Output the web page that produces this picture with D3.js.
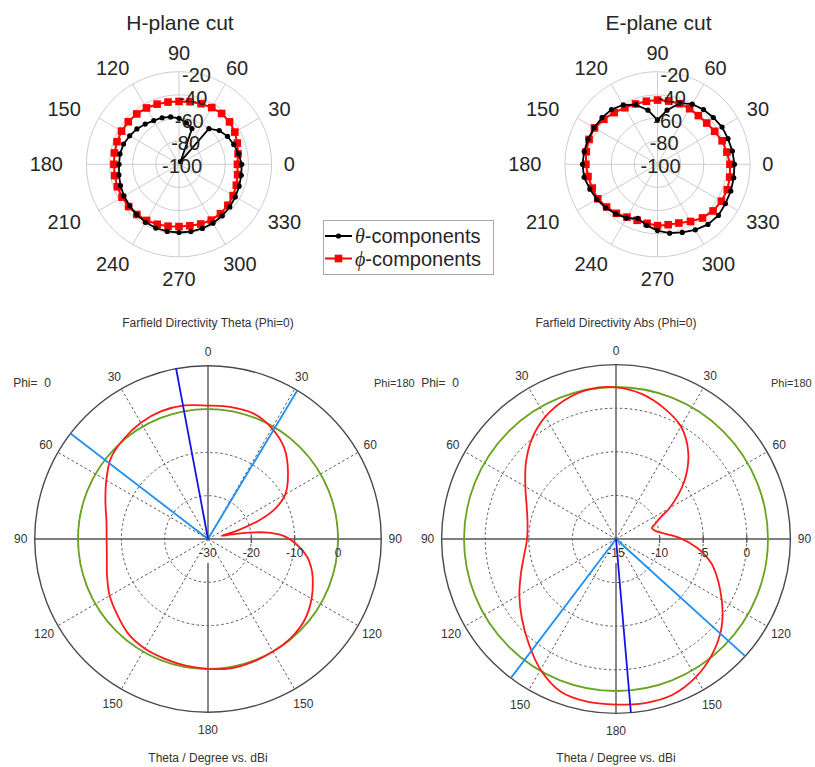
<!DOCTYPE html>
<html><head><meta charset="utf-8">
<script src="https://cdn.jsdelivr.net/npm/d3@7"></script>
<style>body{margin:0;background:#fff}svg{display:block}</style>
</head><body>
<svg id="c" width="815" height="767"></svg>
<script>
// ================= DATA =================
// MATLAB-style polar cuts: angles CCW from +x axis (deg), values in dB
const cutAngles = d3.range(0, 360, 10);
const hPlaneTheta = [-45.8,-47.7,-49.7,-51.6,-54.6,-59.8,-97.4,-67.2,-63.7,-60.3,-58.4,-57.2,-56.4,-54.6,-52.5,-50.8,-49.0,-48.2,-48.2,-47.3,-46.2,-45.1,-44.3,-43.2,-42.1,-41.4,-41.1,-41.1,-41.0,-41.0,-41.3,-41.9,-42.7,-43.8,-44.7,-45.4];
const hPlanePhi   = [-49.5,-48.2,-46.4,-44.3,-43.0,-42.7,-43.4,-44.3,-45.1,-45.7,-45.4,-44.7,-43.8,-43.2,-42.8,-42.7,-43.0,-43.4,-43.8,-43.6,-43.3,-43.2,-43.2,-43.4,-44.0,-44.9,-45.7,-46.2,-46.0,-45.1,-44.3,-44.3,-44.9,-46.0,-47.3,-48.6];
const ePlaneTheta = [-33.5,-34.3,-35.2,-35.6,-37.1,-38.2,-40.0,-43.8,-52.5,-61.6,-52.5,-45.1,-40.8,-38.2,-37.4,-36.8,-36.2,-35.7,-35.2,-35.6,-37.8,-39.5,-41.7,-44.0,-46.4,-50.3,-46.4,-42.7,-39.6,-37.4,-34.6,-32.2,-31.3,-32.2,-32.6,-33.1];
const ePlanePhi   = [-37.4,-39.1,-40.6,-43.0,-44.5,-45.1,-44.5,-44.3,-44.5,-44.5,-44.7,-44.5,-43.6,-41.7,-39.5,-37.1,-37.1,-37.5,-38.1,-39.0,-40.0,-40.4,-42.6,-44.7,-47.3,-48.5,-48.2,-47.0,-47.0,-46.0,-43.0,-39.5,-37.3,-36.2,-35.8,-36.5];
const cutRadialTicks = [-100, -80, -60, -40, -20];
const cutAngleTicks = d3.range(0, 360, 30);
const cutTitles = ["H-plane cut", "E-plane cut"];
const legendLabels = [["\u03B8", "-components"], ["\u03D5", "-components"]];

// CST-style farfield plots: angle measured clockwise from top (deg), values in dBi
const ffThetaAngles = [-180,-170,-160,-150,-140,-130,-120,-110,-100,-90,-80,-70,-60,-50,-40,-30,-20,-10,0,10,20,30,40,50,60,66,70,74,77,79,81,84,88,94,100,105,110,120,130,140,150,160,170,180];
const ffThetaValues = [0.0,-0.3,-0.6,-0.8,-1.4,-2.7,-3.8,-5.2,-6.3,-6.6,-6.2,-4.8,-2.9,-0.8,0.2,1.0,1.4,1.3,0.8,0.9,0.8,-0.5,-2.6,-5.9,-9.4,-13.2,-17.5,-23,-26.8,-24.5,-20.5,-16,-12.3,-9.3,-6.8,-5.4,-4.3,-2.4,-0.9,-0.2,0.0,0.2,0.3,0.0];
const ffAbsAngles = [-180,-170,-160,-150,-140,-130,-120,-110,-100,-90,-80,-70,-60,-50,-40,-30,-20,-10,0,10,20,30,40,50,60,64,69,73,77,81,89,96,100,106,120,130,140,150,160,170,180];
const ffAbsValues = [4.0,3.95,3.6,2.3,0.6,-0.9,-2.2,-3.4,-4.3,-4.8,-4.7,-4.1,-3.0,-1.5,0.0,1.2,2.0,2.45,2.4,1.9,1.0,-0.1,-2.1,-4.8,-7.9,-9.3,-10.2,-10.7,-10.5,-10.0,-7.7,-5.7,-4.7,-3.4,-1.0,0.8,2.2,3.3,4.0,4.1,4.0];
const ffThetaTicks = [-30, -20, -10, 0];
const ffThetaDomain = [-30, 10];
const ffAbsTicks = [-15, -10, -5, 0];
const ffAbsDomain = [-15, 5];
const ffThetaGreen = 0;      // dBi circle level
const ffAbsGreen = 2.43;
const ffThetaMainLobe = -10.6;
const ffAbsMainLobe = 175.1;
const ffThetaBeam = [-52.5, 31];
const ffAbsBeam = [-142.9, 132.2];
const ffAngleTicks = [0,30,60,90,120,150,180,-150,-120,-90,-60,-30];
const ffTitles = ["Farfield Directivity Theta (Phi=0)", "Farfield Directivity Abs (Phi=0)"];
const ffXLabel = "Theta / Degree vs. dBi";

// ================= DRAW =================
const svg = d3.select("#c");
const toRad = d => d * Math.PI / 180;
const SANS = "'Liberation Sans', Arial, sans-serif";

function cutPlot(cx, cy, R, title, theta, phi) {
  const g = svg.append("g").attr("transform", `translate(${cx},${cy})`);
  const r = d3.scaleLinear().domain([cutRadialTicks[0], cutRadialTicks[cutRadialTicks.length-1]]).range([0, R]);
  cutAngleTicks.forEach(a => {
    g.append("line").attr("x1",0).attr("y1",0)
      .attr("x2", R*Math.cos(toRad(a))).attr("y2", -R*Math.sin(toRad(a)))
      .attr("stroke","#cdcdcd").attr("stroke-width",1);
  });
  cutRadialTicks.slice(1).forEach(t => {
    g.append("circle").attr("r", r(t)).attr("fill","none").attr("stroke","#cdcdcd").attr("stroke-width",1);
  });
  const line = d3.lineRadial().angle(d => toRad(90 - d[0])).radius(d => r(d[1])).curve(d3.curveLinearClosed);
  const pt = (a, v) => [r(v)*Math.cos(toRad(a)), -r(v)*Math.sin(toRad(a))];
  const dTheta = cutAngles.map((a,i)=>[a, theta[i]]);
  const dPhi = cutAngles.map((a,i)=>[a, phi[i]]);
  g.append("path").attr("d", line(dPhi)).attr("fill","none").attr("stroke","#ff0000").attr("stroke-width",2);
  g.selectAll(null).data(dPhi).enter().append("rect")
    .attr("x", d=>pt(d[0],d[1])[0]-3.8).attr("y", d=>pt(d[0],d[1])[1]-3.8)
    .attr("width",7.6).attr("height",7.6).attr("fill","#ff0000");
  g.append("path").attr("d", line(dTheta)).attr("fill","none").attr("stroke","#000").attr("stroke-width",1.8);
  g.selectAll(null).data(dTheta).enter().append("circle")
    .attr("cx", d=>pt(d[0],d[1])[0]).attr("cy", d=>pt(d[0],d[1])[1]).attr("r",2.6).attr("fill","#000");
  // radial labels
  cutRadialTicks.forEach(t => {
    const rr = r(t);
    g.append("text").attr("x", rr*Math.cos(toRad(81)) + 3).attr("y", -rr*Math.sin(toRad(81)) + 2)
      .attr("text-anchor","middle").attr("dominant-baseline","central")
      .attr("font-family",SANS).attr("font-size",20).attr("fill","#262626").text(t);
  });
  // angle labels
  cutAngleTicks.forEach(a => {
    const c = Math.cos(toRad(a)), s = Math.sin(toRad(a));
    const txt = String(a), hw = txt.length*5.7, hh = 7;
    const x = c*(R+12) + c*hw + (c < -0.1 ? 11*c : 0);
    const y = -s*(R+12) - s*hh + (s < -0.1 ? -3*s : 0);
    g.append("text").attr("x", x).attr("y", y)
      .attr("text-anchor","middle").attr("dominant-baseline","central")
      .attr("font-family",SANS).attr("font-size",20).attr("fill","#262626").text(txt);
  });
  svg.append("text").attr("x", cx+1).attr("y", 30).attr("text-anchor","middle")
    .attr("font-family",SANS).attr("font-size",21).attr("fill","#262626").text(title);
}

cutPlot(179, 164.3, 92.6, cutTitles[0], hPlaneTheta, hPlanePhi);
cutPlot(657.5, 164.3, 92.6, cutTitles[1], ePlaneTheta, ePlanePhi);

// legend
(function(){
  const lg = svg.append("g");
  lg.append("rect").attr("x",323.5).attr("y",220.5).attr("width",170).attr("height",54)
    .attr("fill","#fff").attr("stroke","#a8a8a8").attr("stroke-width",1);
  const ys = [236, 258.5];
  legendLabels.forEach((lab, i) => {
    const y = ys[i];
    const col = i === 0 ? "#000" : "#ff0000";
    lg.append("line").attr("x1",325).attr("x2",352).attr("y1",y).attr("y2",y).attr("stroke",col).attr("stroke-width",2);
    if (i === 0) lg.append("circle").attr("cx",338.5).attr("cy",y).attr("r",2.6).attr("fill",col);
    else lg.append("rect").attr("x",334.7).attr("y",y-3.8).attr("width",7.6).attr("height",7.6).attr("fill",col);
    const t = lg.append("text").attr("x",355).attr("y",y+7).attr("font-size",20).attr("fill","#262626");
    t.append("tspan").attr("font-family","'Liberation Serif', 'DejaVu Serif', serif").attr("font-style","italic").text(lab[0]);
    t.append("tspan").attr("font-family",SANS).text(lab[1]);
  });
})();

function ffPlot(cfg) {
  const {cx, cy, R, domain, ticks, angles, values, green, lobe, beam, title, phi180dx} = cfg;
  const g = svg.append("g").attr("transform", `translate(${cx},${cy})`);
  const r = d3.scaleLinear().domain(domain).range([0, R]);
  const P = (a, rr) => [rr*Math.sin(toRad(a)), -rr*Math.cos(toRad(a))];
  // dashed spokes
  [30,60,120,150,-30,-60,-120,-150].forEach(a => {
    const p = P(a, R);
    g.append("line").attr("x1",0).attr("y1",0).attr("x2",p[0]).attr("y2",p[1])
      .attr("stroke","#555").attr("stroke-width",1).attr("stroke-dasharray","2.5,2.5");
  });
  // dashed rings
  ticks.slice(1).forEach(t => {
    g.append("circle").attr("r", r(t)).attr("fill","none").attr("stroke","#555")
      .attr("stroke-width",1).attr("stroke-dasharray","2.5,2.5");
  });
  // outer circle
  g.append("circle").attr("r", R).attr("fill","none").attr("stroke","#4a4a4a").attr("stroke-width",1.4);
  // axes
  g.append("line").attr("x1",-R).attr("x2",R).attr("y1",0).attr("y2",0).attr("stroke","#555").attr("stroke-width",1.4);
  g.append("line").attr("x1",0).attr("x2",0).attr("y1",-R).attr("y2",0).attr("stroke","#555").attr("stroke-width",1.4);
  g.append("line").attr("x1",0).attr("x2",0).attr("y1",24).attr("y2",R).attr("stroke","#555").attr("stroke-width",1.4);
  ticks.slice(1).forEach(t => {
    g.append("line").attr("x1",r(t)).attr("x2",r(t)).attr("y1",-4).attr("y2",4).attr("stroke","#555").attr("stroke-width",1.2);
  });
  // green circle
  g.append("circle").attr("r", r(green)).attr("fill","none").attr("stroke","#6aa31f").attr("stroke-width",1.8);
  // red curve
  const line = d3.lineRadial().angle(d => toRad(d[0])).radius(d => r(d[1])).curve(d3.curveCatmullRom.alpha(0.5));
  const data = angles.map((a,i)=>[a, values[i]]);
  g.append("path").attr("d", line(data)).attr("fill","none").attr("stroke","#ff1a1a").attr("stroke-width",1.8);
  // beam lines
  beam.forEach(a => {
    const p = P(a, R);
    g.append("line").attr("x1",0).attr("y1",0).attr("x2",p[0]).attr("y2",p[1]).attr("stroke","#1e90f0").attr("stroke-width",1.8);
  });
  const pl = P(lobe, R);
  g.append("line").attr("x1",0).attr("y1",0).attr("x2",pl[0]).attr("y2",pl[1]).attr("stroke","#1414e6").attr("stroke-width",1.8);
  // tick labels
  ticks.forEach(t => {
    g.append("text").attr("x", r(t)).attr("y", 14).attr("text-anchor","middle").attr("dominant-baseline","central")
      .attr("font-family",SANS).attr("font-size",12).attr("fill","#333").text(t);
  });
  // angle labels
  ffAngleTicks.forEach(a => {
    const rr = R + 14 + 4*Math.max(0, -Math.cos(toRad(a)));
    const p = P(a, rr);
    g.append("text").attr("x", p[0]).attr("y", p[1]).attr("text-anchor","middle").attr("dominant-baseline","central")
      .attr("font-family",SANS).attr("font-size",12).attr("fill","#333").text(Math.abs(a));
  });
  g.append("text").attr("x",-176).attr("y",-156).attr("text-anchor","middle").attr("dominant-baseline","central")
    .attr("font-family",SANS).attr("font-size",12).attr("fill","#333").attr("xml:space","preserve").text("Phi=  0");
  g.append("text").attr("x",phi180dx).attr("y",-156).attr("dominant-baseline","central")
    .attr("font-family",SANS).attr("font-size",11).attr("fill","#333").text("Phi=180");
  g.append("text").attr("x",0).attr("y",-216).attr("text-anchor","middle").attr("dominant-baseline","central")
    .attr("font-family",SANS).attr("font-size",12).attr("fill","#333").text(title);
  g.append("text").attr("x",0).attr("y",219).attr("text-anchor","middle").attr("dominant-baseline","central")
    .attr("font-family",SANS).attr("font-size",12).attr("fill","#333").text(ffXLabel);
}

ffPlot({cx:208, cy:539, R:173.3, domain:ffThetaDomain, ticks:ffThetaTicks, angles:ffThetaAngles, values:ffThetaValues,
  green:ffThetaGreen, lobe:ffThetaMainLobe, beam:ffThetaBeam, title:ffTitles[0], phi180dx:166});
ffPlot({cx:616, cy:539, R:174.4, domain:ffAbsDomain, ticks:ffAbsTicks, angles:ffAbsAngles, values:ffAbsValues,
  green:ffAbsGreen, lobe:ffAbsMainLobe, beam:ffAbsBeam, title:ffTitles[1], phi180dx:155});
</script>
</body></html>
